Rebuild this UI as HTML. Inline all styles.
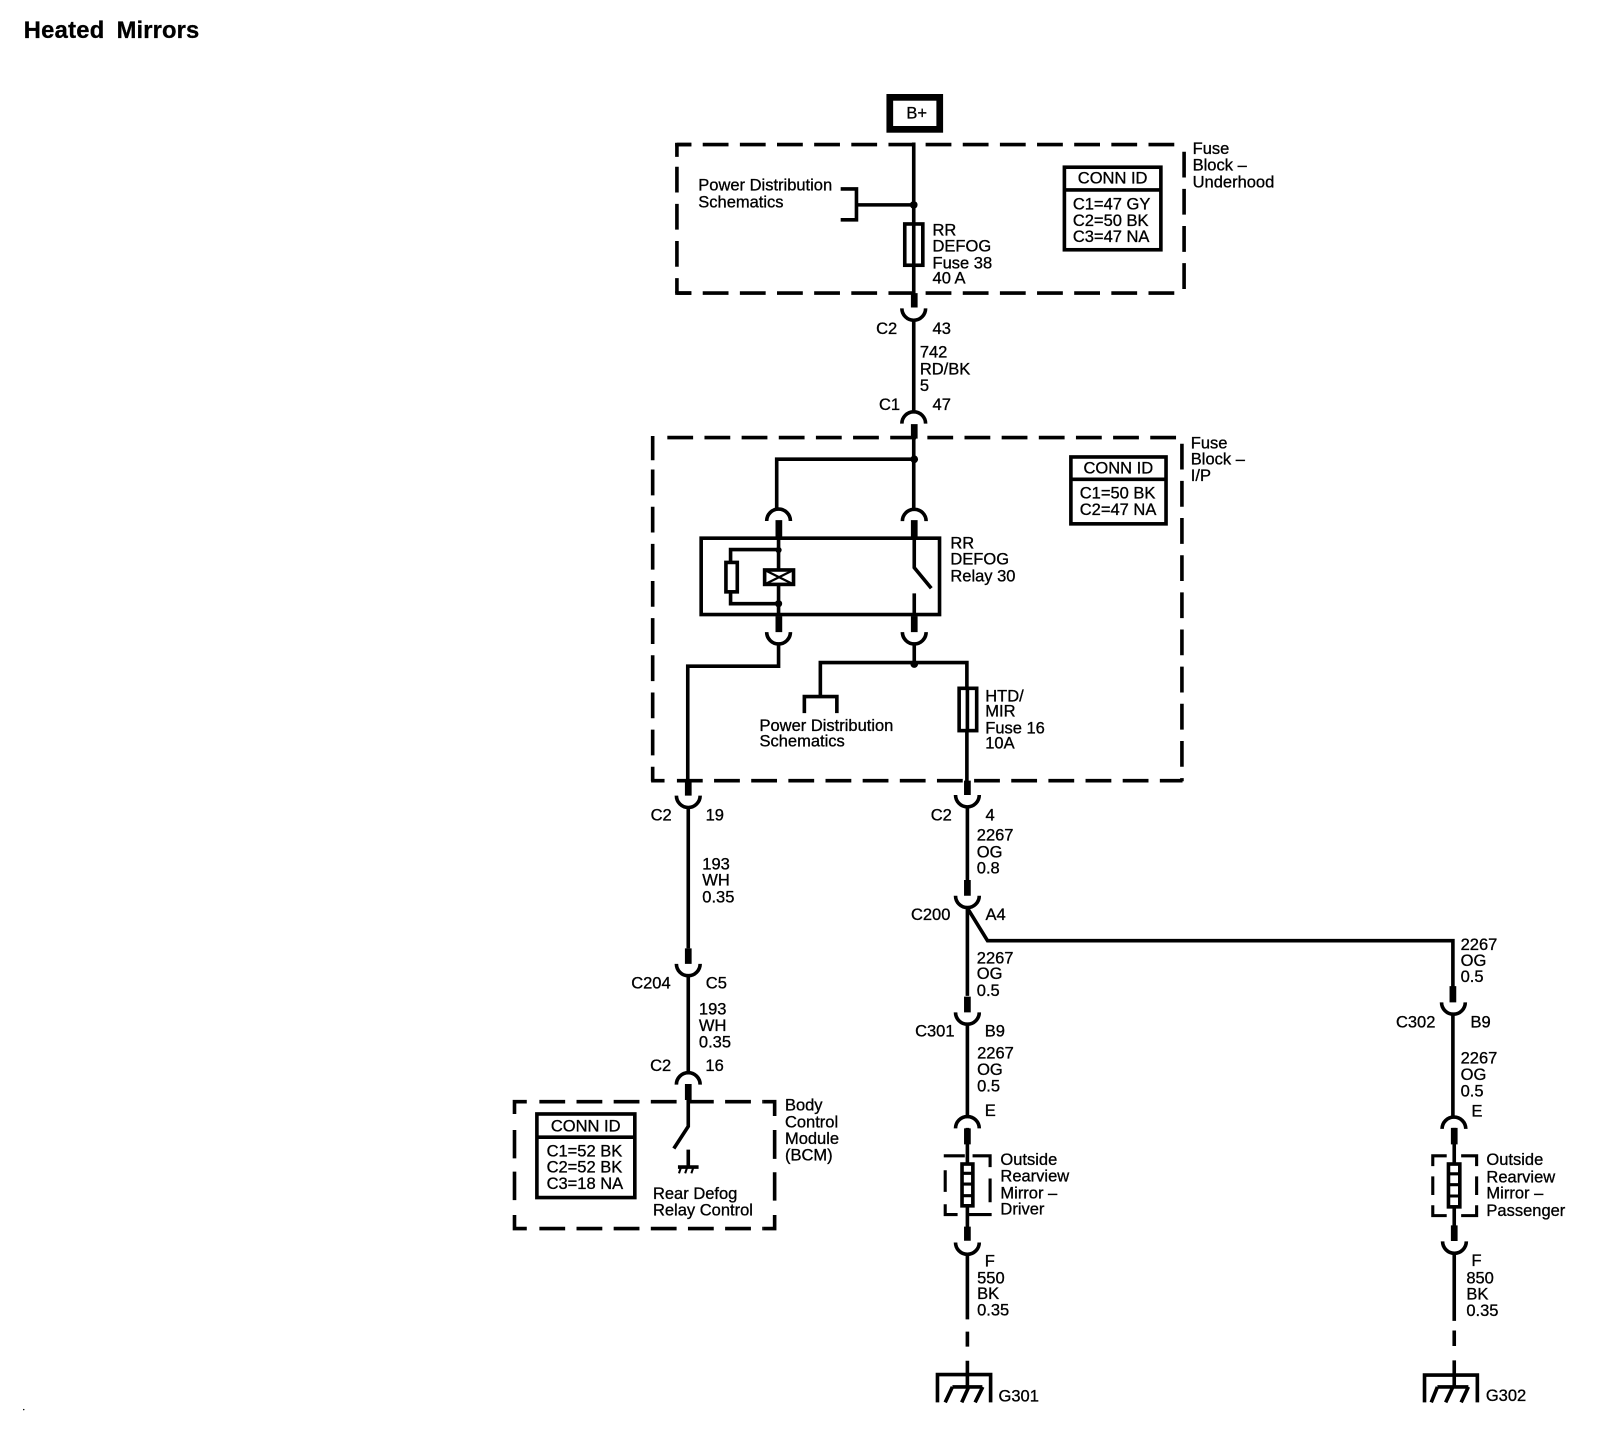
<!DOCTYPE html>
<html><head><meta charset="utf-8"><style>
html,body{margin:0;padding:0;background:#fff;width:1618px;height:1440px;overflow:hidden}
svg{display:block}
text{font-family:"Liberation Sans",sans-serif;font-size:16px;fill:#000;stroke:#000;stroke-width:.3}
.b{font-weight:bold;font-size:23px}
path,rect,line{fill:none;stroke:#000}
</style></head><body>
<svg width="1618" height="1440" viewBox="0 0 1568 1395.4" xmlns="http://www.w3.org/2000/svg">
<rect x="0" y="0" width="1568" height="1396" style="fill:#fff;stroke:none"/>
<text class="b" x="23" y="37" textLength="78">Heated</text>
<text class="b" x="113" y="37" textLength="80">Mirrors</text>
<rect x="862.3" y="94.3" width="48.4" height="31" stroke-width="6.5"/>
<text x="878.4" y="114.6">B+</text>
<!-- dashed boxes -->
<g stroke-width="3.5">
<g stroke-dasharray="25 11">
<path d="M656 140H1147" stroke-dashoffset="11"/>
<path d="M656 284H1147" stroke-dashoffset="11"/>
<path d="M1147.5 147V280"/>
<path d="M656 161.5V284"/>
<path d="M646.7 424H1146"/>
<path d="M656 756.5H1146"/>
<path d="M1145.4 430V757"/>
<path d="M632.5 455V757"/>
<path d="M522.7 1067.6H740"/>
<path d="M522.7 1190.6H740"/>
</g>
<path d="M656 138.5V152M632.5 422.5V446M631 756.5H644"/>
<path d="M654.3 140H670M654.3 284H670"/>
<path d="M510.5 1067.6H498.6V1079.5M498.6 1095V1122.5M498.6 1135.4V1163M498.6 1177.4V1190.6H510.5"/>
<path d="M740 1067.6H750.7V1081.5M750.7 1095V1123M750.7 1136V1163.5M750.7 1177.4V1190.6H740"/>
</g>
<!-- wires -->
<g stroke-width="3.5">
<path d="M885.5 138V298M885.5 311V399M885.5 424V493.5"/>
<path d="M814.7 183H830V213H814.7M830 198.5H885"/>
<path d="M886 445H752.7V493.3"/>
<path d="M886 521V550L902.5 570M886 575V597"/>
<path d="M886 623.5V643M795 675V642H937V757M779.5 691V675H811V691"/>
<path d="M754.5 521V597M754.5 532.5H708V585H754.5"/>
<path d="M754.5 623.5V645.5H666.5V757"/>
<path d="M667 782V919M667 945.5V1039.5M667 1066V1091.5L653 1113M667 1114V1130M657 1131H677"/>
<path d="M937.5 782V853M937.5 878.6V965M937.5 880L957 911.6H1408V956M937.5 992V1082M937.5 1093V1189M937.5 1215V1278.5M937.5 1290.4V1305M937.5 1318.6V1344"/>
<path d="M1408 983V1082.4M1409.3 1093V1188M1409.3 1214V1280M1409.3 1289.3V1304.3M1409.3 1318.3V1343"/>
<path d="M908.5 1359V1332H960V1359M923 1344H952M923 1344L916 1359M938.8 1344L932 1359M952.4 1344L945 1359"/>
<path d="M1380.5 1359V1332.5H1431.7V1359M1393 1344H1423M1393 1344L1387 1359M1408 1344L1401 1359M1423 1344L1416 1359"/>
<path d="M660 1131L658 1137M666 1131L664 1137M672 1131L670 1137" stroke-width="2"/>
</g>
<!-- stubs -->
<path stroke-width="6.5" d="M886 284V298M886 411V425M886 504V520M754.8 504V520M886 597V612.5M754.8 597V612.5M667 756.5V771M667 919V934M667 1050.4V1066M937.5 756.5V770.4M937.5 852.8V868M937.5 965.8V981M937.5 1093.4V1109M937.5 1188.7V1202.3M1408 955.6V971.3M1409.3 1093V1109M1409.3 1187.5V1202.6"/>
<!-- connector arcs -->
<path stroke-width="3.5" d="M874 298.8A11.5 11.5 0 0 0 897 298.8M743 612.5A11.5 11.5 0 0 0 766 612.5M874.5 612.5A11.5 11.5 0 0 0 897.5 612.5M655.5 771A11.5 11.5 0 0 0 678.5 771M655.5 934A11.5 11.5 0 0 0 678.5 934M926 770.4A11.5 11.5 0 0 0 949 770.4M926 868A11.5 11.5 0 0 0 949 868M926 981A11.5 11.5 0 0 0 949 981M926 1204A11.5 11.5 0 0 0 949 1204M1397 971.3A11.5 11.5 0 0 0 1420 971.3M1398 1203A11.5 11.5 0 0 0 1421 1203"/>
<path stroke-width="3.5" d="M874 410.5A11.5 11.5 0 0 1 897 410.5M743 504.8A11.5 11.5 0 0 1 766 504.8M874.5 505A11.5 11.5 0 0 1 897.5 505M655.5 1051A11.5 11.5 0 0 1 678.5 1051M926 1093.5A11.5 11.5 0 0 1 949 1093.5M1397.5 1094A11.5 11.5 0 0 1 1420.5 1094"/>
<!-- dots -->
<g style="fill:#000">
<circle cx="885.5" cy="198.5" r="3.7"/><circle cx="886" cy="445" r="3.7"/><circle cx="886" cy="643.5" r="3.7"/>
<circle cx="754.5" cy="533" r="3"/><circle cx="754.5" cy="585" r="3.5"/><circle cx="23" cy="1366" r=".7"/>
</g>
<!-- fuses, relay -->
<rect x="876.8" y="217" width="17.5" height="40" stroke-width="3.5" style="fill:#fff"/>
<line x1="885.5" y1="217" x2="885.5" y2="257" stroke-width="3.5"/>
<rect x="929.5" y="667" width="17" height="41" stroke-width="3.5" style="fill:#fff"/>
<line x1="937.5" y1="667" x2="937.5" y2="708" stroke-width="3.5"/>
<rect x="679.5" y="521.5" width="231" height="74" stroke-width="3.5"/>
<rect x="703.5" y="545" width="11" height="28.5" stroke-width="3.5" style="fill:#fff"/>
<rect x="741" y="552.3" width="28" height="14" stroke-width="3.5" style="fill:#fff"/>
<path d="M741 552.3L769 566.3M769 552.3L741 566.3" stroke-width="2.2"/>
<!-- mirrors -->
<g stroke-width="3">
<path d="M914.6 1120H935M916 1134V1155M916 1167V1177H928M942.5 1120H959.5V1131M959.5 1142V1165M961 1177H938.7"/>
<path d="M1402 1120H1388.5V1130M1388.5 1140V1158M1388.5 1168V1178H1402M1416 1120H1431V1130M1431 1140V1158M1431 1168V1178H1416"/>
</g>
<rect x="932.3" y="1128" width="10.5" height="40.5" stroke-width="3.5" style="fill:#fff"/>
<rect x="1403.7" y="1128" width="11" height="41.5" stroke-width="3.5" style="fill:#fff"/>
<path d="M932 1137H943M932 1147.4H943M932 1158.7H943M1403 1137.5H1415M1403 1148H1415M1403 1159H1415" stroke-width="3"/>
<!-- conn id -->
<g stroke-width="3.5">
<rect x="1031.5" y="162" width="93.5" height="80"/><line x1="1031" y1="184" x2="1126" y2="184"/>
<rect x="1037.8" y="442.8" width="92.2" height="64.8"/><line x1="1037" y1="464.5" x2="1131" y2="464.5"/>
<rect x="520.3" y="1079.5" width="94.9" height="81"/><line x1="520" y1="1102" x2="616" y2="1102"/>
</g>
<text x="1044.5" y="178">CONN ID</text>
<text x="1039.7" y="203">C1=47 GY</text><text x="1039.7" y="219">C2=50 BK</text><text x="1039.7" y="234.5">C3=47 NA</text>
<text x="1050" y="458.7">CONN ID</text>
<text x="1046.4" y="483">C1=50 BK</text><text x="1046.4" y="499">C2=47 NA</text>
<text x="533.8" y="1096.5">CONN ID</text>
<text x="529.7" y="1120.9">C1=52 BK</text><text x="529.7" y="1136">C2=52 BK</text><text x="529.7" y="1152">C3=18 NA</text>
<!-- labels -->
<text x="676.7" y="184.7">Power Distribution</text><text x="676.7" y="200.9">Schematics</text>
<text x="903.7" y="228.3">RR</text><text x="903.7" y="243.8">DEFOG</text><text x="903.7" y="260">Fuse 38</text><text x="903.7" y="274.5">40 A</text>
<text x="1155.8" y="149.2">Fuse</text><text x="1155.8" y="165.4">Block –</text><text x="1155.8" y="181.5">Underhood</text>
<text x="849" y="323.6">C2</text><text x="903.7" y="323.6">43</text>
<text x="891.4" y="346.6">742</text><text x="891.4" y="362.7">RD/BK</text><text x="891.4" y="378.9">5</text>
<text x="851.8" y="397.3">C1</text><text x="903.7" y="397.3">47</text>
<text x="1154" y="434.5">Fuse</text><text x="1154" y="450">Block –</text><text x="1154" y="466">I/P</text>
<text x="921" y="531.4">RR</text><text x="921" y="546.9">DEFOG</text><text x="921" y="563.7">Relay 30</text>
<text x="736" y="708.4">Power Distribution</text><text x="736" y="723.5">Schematics</text>
<text x="954.8" y="680">HTD/</text><text x="954.8" y="694.5">MIR</text><text x="954.8" y="710.6">Fuse 16</text><text x="954.8" y="725.2">10A</text>
<text x="630.5" y="795">C2</text><text x="683.8" y="795">19</text>
<text x="902" y="795">C2</text><text x="955" y="795">4</text>
<text x="680.6" y="842.5">193</text><text x="680.6" y="858">WH</text><text x="680.6" y="874.4">0.35</text>
<text x="946.6" y="814.7">2267</text><text x="946.6" y="831">OG</text><text x="946.6" y="846.7">0.8</text>
<text x="882.8" y="891.6">C200</text><text x="955" y="891.6">A4</text>
<text x="1415.5" y="920.6">2267</text><text x="1415.5" y="936.3">OG</text><text x="1415.5" y="951.6">0.5</text>
<text x="946.6" y="933.5">2267</text><text x="946.6" y="948.7">OG</text><text x="946.6" y="965">0.5</text>
<text x="611.7" y="957.8">C204</text><text x="684" y="957.8">C5</text>
<text x="677.3" y="983">193</text><text x="677.3" y="999">WH</text><text x="677.3" y="1015">0.35</text>
<text x="630" y="1037.9">C2</text><text x="683.6" y="1037.9">16</text>
<text x="886.8" y="1004.6">C301</text><text x="954.3" y="1004.6">B9</text>
<text x="1352.8" y="995.7">C302</text><text x="1425" y="995.7">B9</text>
<text x="946.9" y="1025.6">2267</text><text x="946.9" y="1041.7">OG</text><text x="946.9" y="1057.9">0.5</text>
<text x="1415.5" y="1030.7">2267</text><text x="1415.5" y="1046.7">OG</text><text x="1415.5" y="1062.4">0.5</text>
<text x="954.3" y="1081.5">E</text><text x="1426" y="1081.8">E</text>
<text x="760.7" y="1076.3">Body</text><text x="760.7" y="1092.5">Control</text><text x="760.7" y="1108.6">Module</text><text x="760.7" y="1124.7">(BCM)</text>
<text x="632.8" y="1162">Rear Defog</text><text x="632.8" y="1177.7">Relay Control</text>
<text x="969.5" y="1129">Outside</text><text x="969.5" y="1145">Rearview</text><text x="969.5" y="1161.3">Mirror –</text><text x="969.5" y="1176.7">Driver</text>
<text x="1440.5" y="1129">Outside</text><text x="1440.5" y="1145.8">Rearview</text><text x="1440.5" y="1161.5">Mirror –</text><text x="1440.5" y="1178.2">Passenger</text>
<text x="954.3" y="1227.5">F</text><text x="946.9" y="1243.6">550</text><text x="946.9" y="1258.8">BK</text><text x="946.9" y="1275">0.35</text>
<text x="1426" y="1227">F</text><text x="1421" y="1243.6">850</text><text x="1421" y="1259.3">BK</text><text x="1421" y="1275.3">0.35</text>
<text x="967.7" y="1358.3">G301</text><text x="1439.9" y="1357.7">G302</text>
</svg>
</body></html>
